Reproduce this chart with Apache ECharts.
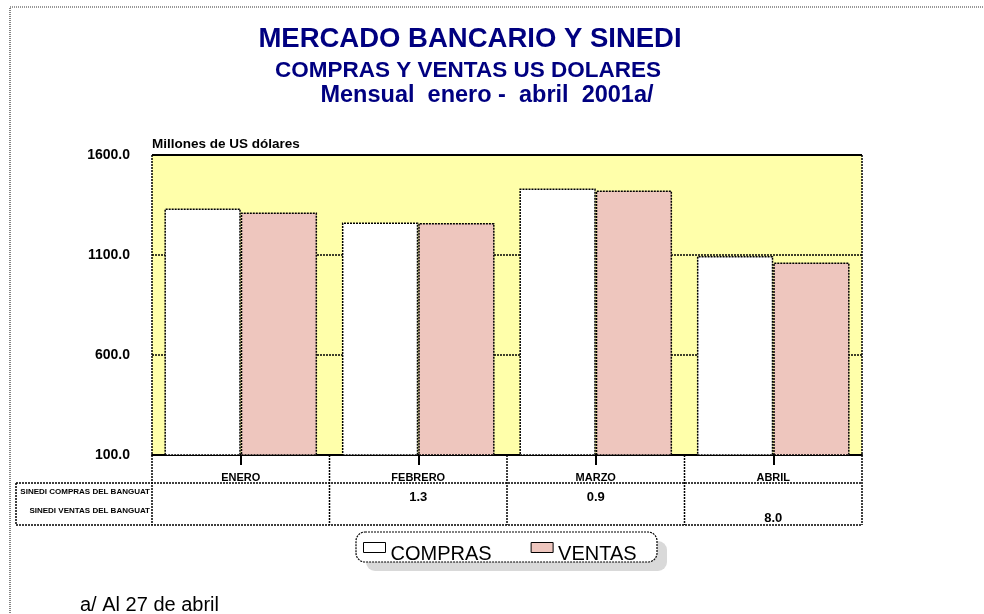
<!DOCTYPE html>
<html><head><meta charset="utf-8">
<script src="https://cdn.jsdelivr.net/npm/echarts@6/dist/echarts.min.js"></script>
<style>html,body{margin:0;padding:0;background:#fff}#c{width:984px;height:614px}</style>
</head><body><div id="c"></div>
<script>
const categories = ['ENERO', 'FEBRERO', 'MARZO', 'ABRIL'];
const compras = [1333, 1262, 1432, 1095];
const ventas = [1312, 1260, 1422, 1062];
const tableRowLabels = ['SINEDI COMPRAS DEL BANGUAT', 'SINEDI VENTAS DEL BANGUAT'];
const sinediCompras = [null, 1.3, 0.9, null];
const sinediVentas = [null, null, null, 8.0];
const yMin = 100, yMax = 1600, yStep = 500;

const FONT = '"Liberation Sans", Arial, sans-serif';
const chart = echarts.init(document.getElementById('c'));
const G = {left: 152, top: 155, width: 710, height: 300};
const dot = [2, 1];

chart.setOption({
  backgroundColor: '#fff',
  animation: false,
  title: [
    {text: 'MERCADO BANCARIO Y SINEDI', left: 465, top: 20, textAlign: 'center',
     textStyle: {fontFamily: FONT, fontSize: 27.5, fontWeight: 'bold', color: '#000080'}},
    {text: 'COMPRAS Y VENTAS US DOLARES', left: 463, top: 54, textAlign: 'center',
     textStyle: {fontFamily: FONT, fontSize: 22.5, fontWeight: 'bold', color: '#000080'}},
    {text: 'Mensual  enero -  abril  2001a/', left: 482, top: 79, textAlign: 'center',
     textStyle: {fontFamily: FONT, fontSize: 23.5, fontWeight: 'bold', color: '#000080'}}
  ],
  grid: {left: G.left, top: G.top, width: G.width, height: G.height, show: true,
         backgroundColor: '#FFFFAA', borderWidth: 0},
  legend: {
    left: 363, top: 542,
    data: [
      {name: 'COMPRAS', itemStyle: {color: '#fff', borderColor: '#000', borderWidth: 1}},
      {name: 'VENTAS', itemStyle: {color: '#EEC6BE', borderColor: '#000', borderWidth: 1}}
    ],
    icon: 'rect', itemWidth: 22, itemHeight: 10, itemGap: 39,
    padding: 0,
    backgroundColor: 'transparent', borderWidth: 0,
    formatter: '{t|{name}}',
    textStyle: {fontFamily: FONT, fontSize: 20, color: '#000',
      rich: {t: {fontFamily: FONT, fontSize: 20, color: '#000', padding: [14, 0, 0, 0]}}}
  },
  xAxis: {
    type: 'category', data: categories,
    axisLine: {lineStyle: {color: '#000', width: 2}},
    axisTick: {show: true, alignWithLabel: true, length: 10, lineStyle: {color: '#000', width: 2, type: 'solid'}},
    axisLabel: {margin: 17, fontFamily: FONT, fontSize: 11, fontWeight: 'bold', color: '#000'},
    splitLine: {show: false}
  },
  yAxis: {
    type: 'value', min: yMin, max: yMax, interval: yStep,
    axisLine: {show: false},
    axisTick: {show: false},
    axisLabel: {margin: 22, fontFamily: FONT, fontSize: 14, fontWeight: 'bold', color: '#000',
                formatter: v => v.toFixed(1)},
    splitLine: {show: true, lineStyle: {color: '#000', width: 1.5, type: dot}}
  },
  series: [
    {name: 'COMPRAS', type: 'bar', data: compras, barGap: '0%', barCategoryGap: '14%',
     itemStyle: {color: '#fff', borderColor: '#000', borderWidth: 1.5, borderType: dot}},
    {name: 'VENTAS', type: 'bar', data: ventas, barGap: '0%', barCategoryGap: '14%',
     itemStyle: {color: '#EEC6BE', borderColor: '#000', borderWidth: 1.5, borderType: dot}}
  ]
});

// Table below the axis, positioned from the axis scale
const L = G.left, R = G.left + G.width, B = G.top + G.height;
const row1 = B + 28, tableBottom = B + 70, tableLeft = 16;
const lineStyle = {stroke: '#000', lineWidth: 1.5, lineDash: dot};
const gfx = [];
function line(x1, y1, x2, y2, st) {
  gfx.push({type: 'line', silent: true, z: 100, shape: {x1, y1, x2, y2}, style: Object.assign({}, lineStyle, st || {})});
}
// outer frame
gfx.push({type: 'rect', silent: true, z: 0, shape: {x: 10, y: 7, width: 1000, height: 700},
          style: {fill: null, stroke: '#333', lineWidth: 1.2, lineDash: [1, 1]}});
// legend frame with shadow
gfx.push({type: 'rect', silent: true, z: 1, shape: {x: 366, y: 541, width: 301, height: 30, r: 9},
          style: {fill: '#d9d9d9', stroke: null}});
gfx.push({type: 'rect', silent: true, z: 2, shape: {x: 356, y: 532, width: 301, height: 30, r: 9},
          style: {fill: '#fff', stroke: '#000', lineWidth: 1.2, lineDash: [2, 1]}});
// plot border
line(L, G.top, R, G.top, {lineDash: null, lineWidth: 2});
line(L, G.top, L, B);
line(R, G.top, R, B);
// table lines
line(L, B, L, tableBottom);
line(R, B, R, tableBottom);
line(tableLeft, row1, R, row1);
line(tableLeft, row1, tableLeft, tableBottom);
line(tableLeft, tableBottom, R, tableBottom);
for (let i = 1; i < categories.length; i++) {
  const x = (chart.convertToPixel({xAxisIndex: 0}, categories[i - 1]) + chart.convertToPixel({xAxisIndex: 0}, categories[i])) / 2;
  line(x, B, x, tableBottom);
}
// row labels
const rowY = [row1 + 9, row1 + 28];
tableRowLabels.forEach((t, k) => {
  gfx.push({type: 'text', silent: true, z: 100, style: {text: t, x: L - 2, y: rowY[k], align: 'right', verticalAlign: 'middle',
    font: 'bold 8px ' + FONT, fill: '#000'}});
});
// values
const valY = [row1 + 14, row1 + 35];
[sinediCompras, sinediVentas].forEach((arr, k) => {
  arr.forEach((v, i) => {
    if (v == null) return;
    const x = chart.convertToPixel({xAxisIndex: 0}, categories[i]);
    gfx.push({type: 'text', silent: true, z: 100, style: {text: v.toFixed(1), x, y: valY[k], align: 'center', verticalAlign: 'middle',
      font: 'bold 13px ' + FONT, fill: '#000'}});
  });
});
// axis unit label and footnote
gfx.push({type: 'text', silent: true, style: {text: 'Millones de US dólares', x: 152, y: 144, verticalAlign: 'middle',
  font: 'bold 13.5px ' + FONT, fill: '#000'}});
gfx.push({type: 'text', silent: true, style: {text: 'a/ Al 27 de abril', x: 80, y: 605, verticalAlign: 'middle',
  font: '20px ' + FONT, fill: '#000'}});
chart.setOption({graphic: gfx});
</script>
</body></html>
